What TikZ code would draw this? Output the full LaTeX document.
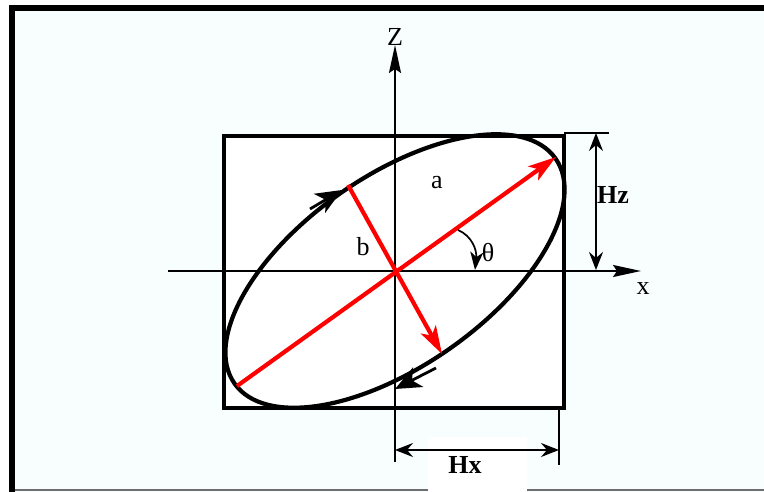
\documentclass[tikz,border=0pt]{standalone}
\usepackage{fontspec}
\setmainfont{Liberation Serif}
\usetikzlibrary{arrows.meta}
\definecolor{bgcyan}{RGB}{248,253,253}
\definecolor{redax}{RGB}{255,0,0}
\definecolor{framegray}{RGB}{110,110,110}
\tikzset{
  lbl/.style={font=\fontsize{26}{30}\selectfont, inner sep=0pt},
  blbl/.style={font=\fontsize{26}{30}\selectfont\bfseries, inner sep=0pt},
  axis/.style={line width=1.7pt, -{Stealth[length=28pt,width=12pt,inset=4pt]}},
  dimline/.style={line width=1.7pt, {Stealth[length=18pt,width=14pt,inset=6pt]}-{Stealth[length=18pt,width=14pt,inset=6pt]}},
  extline/.style={line width=1.4pt},
  thick3/.style={line width=4.2pt},
  redarrow/.style={draw=redax, line width=4.2pt, -{Stealth[length=28pt,width=17pt,inset=7pt]}},
  dirarrow/.style={line width=2.8pt, -{Stealth[length=26pt,width=22pt,inset=7pt]}}
}
\begin{document}
\begin{tikzpicture}[x=1pt,y=-1pt]
\useasboundingbox (0,0) rectangle (764,492);
% background frame
\fill[white] (0,0) rectangle (764,492);
\fill[bgcyan] (12,8) rectangle (764,492);
\draw[framegray, line width=2pt] (12,490) -- (764,490);
\draw[line width=6pt] (12,492) -- (12,8) -- (764,8);
% white box behind Hx
\fill[white] (428,437) rectangle (527,492);
% inner rectangle
\draw[thick3, fill=white] (224,136) rectangle (564,408);
% coordinates
\coordinate (O) at (395,271);
\coordinate (zbot) at (395,462);
\coordinate (ztop) at (395,45);
\coordinate (xl) at (168,271);
\coordinate (xr) at (641,271);
\coordinate (majA) at (237,386);
\coordinate (majB) at (556,157);
\coordinate (minA) at (348,185);
\coordinate (minB) at (442,354);
% ellipse
\draw[thick3, rotate around={35:(O)}] (O) ellipse [x radius=196, y radius=95];
% axes
\draw[axis] (zbot) -- (ztop);
\draw[axis] (xl) -- (xr);
% red axes of ellipse
\draw[redarrow] (majA) -- (majB);
\draw[redarrow] (minA) -- (minB);
% direction arrows on ellipse
\coordinate (u1) at (310,209);
\coordinate (u2) at (342,190);
\coordinate (d1) at (436,368);
\coordinate (d2) at (395,389);
\draw[dirarrow] (u1) -- (u2);
\draw[dirarrow] (d1) -- (d2);
% theta arc
\coordinate (t1) at (458,230);
\coordinate (t2) at (475,270);
\draw[line width=1.7pt, -{Stealth[length=18pt,width=13pt,inset=5pt]}] (t1) .. controls (472,236) and (477,250) .. (t2);
% Hz dimension
\coordinate (hz1) at (596,133);
\coordinate (hz2) at (596,270);
\coordinate (hze1) at (564,133);
\coordinate (hze2) at (609,133);
\draw[extline] (hze1) -- (hze2);
\draw[dimline] (hz1) -- (hz2);
% Hx dimension
\coordinate (hx1) at (395,450);
\coordinate (hx2) at (559,450);
\coordinate (hxe1) at (559,410);
\coordinate (hxe2) at (559,465);
\draw[extline] (hxe1) -- (hxe2);
\draw[dimline] (hx1) -- (hx2);
% labels
\node[lbl] (zlab) at (395,37) {Z};
\node[lbl] (xlab) at (643,289) {x};
\node[lbl] (alab) at (437,183) {a};
\node[lbl] (blab) at (363,247) {b};
\node[lbl] (thlab) at (488,253) {θ};
\node[blbl] (hzlab) at (613,195) {Hz};
\node[blbl] (hxlab) at (465,465) {Hx};
\end{tikzpicture}
\end{document}
